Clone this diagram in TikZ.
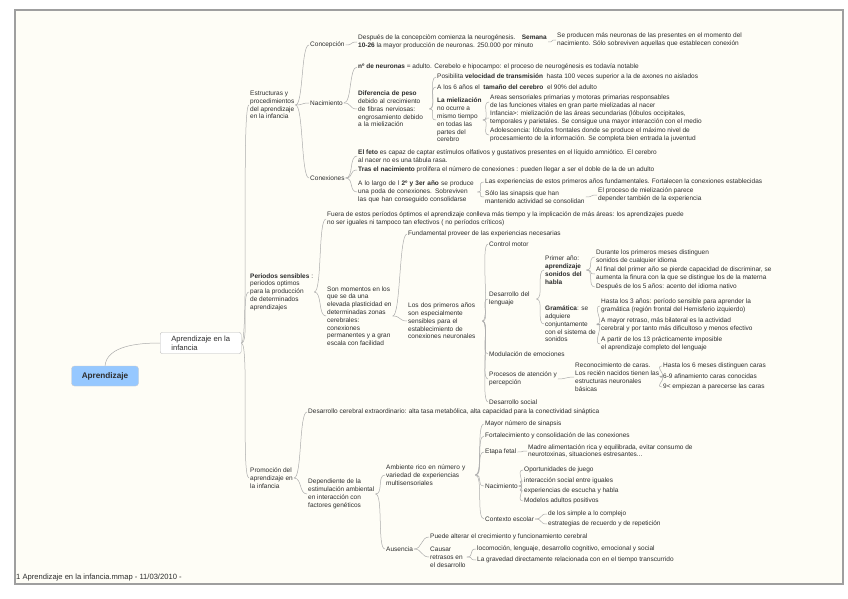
\documentclass[tikz,border=0pt]{standalone}
\usepackage{fontspec}
\setmainfont{Liberation Sans}
\usetikzlibrary{positioning, calc}

\definecolor{paper}{RGB}{254,253,246}
\definecolor{linkgray}{RGB}{172,172,172}
\definecolor{inkgray}{RGB}{45,45,45}
\definecolor{rootblue}{RGB}{150,200,255}

\tikzstyle{topic} = [anchor=west, align=left, inner sep=1pt, text=inkgray, font=\fontsize{6.5}{7.8}\selectfont]
\tikzstyle{branch} = [draw=linkgray, line width=0.5pt, to path={.. controls +(8,0) and +(-8,0) .. (\tikztotarget)}]
\tikzstyle{bubble} = [rectangle, rounded corners=2pt, draw=gray!55, fill=white, anchor=west, align=left, text=inkgray, minimum width=81pt, minimum height=20pt, inner xsep=4pt, font=\fontsize{7.6}{8.8}\selectfont]
\tikzstyle{rootbox} = [rectangle, rounded corners=3pt, draw=gray!40, fill=rootblue, minimum width=67pt, minimum height=20pt, text=inkgray, font=\fontsize{8.2}{9}\selectfont\bfseries]

\begin{document}
\begin{tikzpicture}[x=1pt, y=-1pt]
\useasboundingbox (0,0) rectangle (848,599);
\draw [gray!75, line width=1.4pt, fill=paper] (15,10) rectangle (843,584);

% centre
\node (root) [rootbox] at (105,376) {Aprendizaje};
\node (inf) [bubble] at (160,343) {Aprendizaje en la\\infancia};

% estructuras
\node (estr) [topic] at (249,105) {Estructuras y\\procedimientos\\del aprendizaje\\en la infancia};
\node (concep) [topic] at (309,45) {Concepción};
\node (nacim) [topic] at (309,103) {Nacimiento};
\node (conex) [topic] at (309,178) {Conexiones};
\node (neurog) [topic] at (357,42) {Después de la concepciòm comienza la neurogénesis.\quad \textbf{Semana}\\\textbf{10-26} la mayor producción de neuronas. 250.000 por minuto};
\node (masneur) [topic] at (556,40) {Se producen más neuronas de las presentes en el momento del\\nacimiento. Sólo sobreviven aquellas que establecen conexión};
\node (numneur) [topic] at (357,67) {\textbf{nº de neuronas} = adulto. Cerebelo e hipocampo: el proceso de neurogénesis es todavía notable};
\node (peso) [topic, text width=70pt] at (357,109) {\textbf{Diferencia de peso}\\debido al crecimiento\\de fibras nerviosas:\\engrosamiento debido\\a la mielización};
\node (veloc) [topic] at (436,77) {Posibilita \textbf{velocidad de transmisión}\ \ hasta 100 veces superior a la de axones no aislados};
\node (tamano) [topic] at (436,87) {A los 6 años el\ \ \textbf{tamaño del cerebro}\ \ el 90\% del adulto};
\node (mieliz) [topic] at (436,120) {\textbf{La mielización}\\no ocurre a\\mismo tiempo\\en todas las\\partes del\\cerebro};
\node (areas) [topic] at (489,102) {Areas sensoriales primarias y motoras primarias responsables\\de las funciones vitales en gran parte mielizadas al nacer};
\node (infancia) [topic] at (489,118) {Infancia>: mielización de las áreas secundarias (lóbulos occipitales,\\temporales y parietales. Se consigue una mayor interacción con el medio};
\node (adoles) [topic] at (489,135) {Adolescencia: lóbulos frontales donde se produce el máximo nivel de\\procesamiento de la información. Se completa bien entrada la juventud};
\node (feto) [topic] at (357,156) {\textbf{El feto} es capaz de captar estímulos olfativos y gustativos presentes en el líquido amniótico. El cerebro\\al nacer no es una tábula rasa.};
\node (tras) [topic] at (357,170) {\textbf{Tras el nacimiento} prolifera el número de conexiones : pueden llegar a ser el doble de la de un adulto};
\node (poda) [topic, text width=118pt] at (357,192) {A lo largo de l \textbf{2º y 3er año} se produce\\una poda de conexiones. Sobreviven\\las que han conseguido consolidarse};
\node (experi) [topic] at (484,182) {Las experiencias de estos primeros años fundamentales. Fortalecen la conexiones establecidas};
\node (solo) [topic] at (484,197) {Sólo las sinapsis que han\\mantenido actividad se consolidan};
\node (proceso) [topic] at (597,195) {El proceso de mielización parece\\depender también de la experiencia};

% periodos sensibles
\node (perio) [topic] at (249,292) {\textbf{Periodos sensibles} :\\periodos optimos\\para la producción\\de determinados\\aprendizajes};
\node (fuera) [topic] at (326,219) {Fuera de estos períodos óptimos el aprendizaje conlleva más tiempo y la implicación de más áreas: los aprendizajes puede\\no ser iguales ni tampoco tan efectivos ( no períodos críticos)};
\node (momentos) [topic] at (326,316) {Son momentos en los\\que se da una\\elevada plasticidad en\\determinadas zonas\\cerebrales:\\conexiones\\permanentes y a gran\\escala con facilidad};
\node (proveer) [topic] at (407,234) {Fundamental proveer de las experiencias necesarias};
\node (dosanos) [topic, text width=73pt] at (407,321) {Los dos primeros años\\son especialmente\\sensibles para el\\establecimiento de\\conexiones neuronales};
\node (motor) [topic] at (488,244) {Control motor};
\node (lenguaje) [topic, text width=46pt] at (488,299) {Desarrollo del\\lenguaje};
\node (primer) [topic, text width=40pt] at (544,270) {Primer año:\\\textbf{aprendizaje}\\\textbf{sonidos del}\\\textbf{habla}};
\node (meses) [topic] at (595,257) {Durante los primeros meses distinguen\\sonidos de cualquier idioma};
\node (alfinal) [topic] at (595,274) {Al final del primer año se pierde capacidad de discriminar, se\\aumenta la finura con la que se distingue los de la materna};
\node (cincoanos) [topic] at (595,287) {Después de los 5 años: acento del idioma nativo};
\node (gramat) [topic] at (544,324) {\textbf{Gramática}: se\\adquiere\\conjuntamente\\con el sistema de\\sonidos};
\node (tresanos) [topic] at (600,306) {Hasta los 3 años: período sensible para aprender la\\gramática (región frontal del Hemisferio izquierdo)};
\node (retraso) [topic] at (600,325) {A mayor retraso, más bilateral es la actividad\\cerebral y por tanto más dificultoso y menos efectivo};
\node (trece) [topic] at (600,344) {A partir de los 13 prácticamente imposible\\el aprendizaje completo del lenguaje};
\node (emocion) [topic] at (488,354) {Modulación de emociones};
\node (atencion) [topic] at (488,379) {Procesos de atención y\\percepción};
\node (caras) [topic] at (574,377) {Reconocimiento de caras.\\Los recién nacidos tienen las\\estructuras neuronales\\básicas};
\node (seismeses) [topic] at (662,366) {Hasta los 6 meses distinguen caras};
\node (afinam) [topic] at (662,376) {6-9 afinamiento caras conocidas};
\node (nueve) [topic] at (662,387) {9< empiezan a parecerse las caras};
\node (social) [topic] at (488,402) {Desarrollo social};

% promocion
\node (promo) [topic] at (249,478) {Promoción del\\aprendizaje en\\la infancia};
\node (extra) [topic] at (307,412) {Desarrollo cerebral extraordinario: alta tasa metabólica, alta capacidad para la conectividad sináptica};
\node (depend) [topic] at (307,494) {Dependiente de la\\estimulación ambiental\\en interacción con\\factores genéticos};
\node (ambiente) [topic, text width=88pt] at (385,475) {Ambiente rico en número y\\variedad de experiencias\\multisensoriales};
\node (ausencia) [topic] at (385,549) {Ausencia};
\node (mayor) [topic] at (484,424) {Mayor número de sinapsis};
\node (fortal) [topic] at (484,436) {Fortalecimiento y consolidación de las conexiones};
\node (fetal) [topic] at (484,452) {Etapa fetal};
\node (madre) [topic] at (527,451) {Madre alimentación rica y equilibrada, evitar consumo de\\neurotoxinas, situaciones estresantes...};
\node (nacer) [topic] at (484,486) {Nacimiento};
\node (juego) [topic] at (523,470) {Oportunidades de juego};
\node (iguales) [topic] at (523,481) {interacción social entre iguales};
\node (escucha) [topic] at (523,491) {experiencias de escucha y habla};
\node (modelos) [topic] at (523,501) {Modelos adultos positivos};
\node (escolar) [topic] at (484,519) {Contexto escolar};
\node (simple) [topic] at (547,514) {de los simple a lo complejo};
\node (recuerdo) [topic] at (547,524) {estrategias de recuerdo y de repetición};
\node (alterar) [topic] at (429,537) {Puede alterar el crecimiento y funcionamiento cerebral};
\node (causar) [topic] at (429,557) {Causar\\retrasos en\\el desarrollo};
\node (locomo) [topic] at (476,549) {locomoción, lenguaje, desarrollo cognitivo, emocional y social};
\node (gravedad) [topic] at (476,560) {La gravedad directamente relacionada con en el tiempo transcurrido};

\node (footer) [anchor=west, inner sep=0pt, text=inkgray, font=\fontsize{7.6}{9}\selectfont] at (16,578) {1 Aprendizaje en la infancia.mmap - 11/03/2010 -};

% branches
\draw [branch] (root.north) .. controls +(2,-20) and +(-22,0) .. (inf.west);
\draw [branch] (inf.east) to (estr.west);
\draw [branch] (inf.east) to (perio.west);
\draw [branch] (inf.east) to (promo.west);
\draw [branch] (estr.east) to (concep.west);
\draw [branch] (estr.east) to (nacim.west);
\draw [branch] (estr.east) to (conex.west);
\draw [branch] (concep.east) to (neurog.west);
\draw [branch] (neurog.east) to (masneur.west);
\draw [branch] (nacim.east) to (numneur.west);
\draw [branch] (nacim.east) to (peso.west);
\draw [branch] (peso.east) to (veloc.west);
\draw [branch] (peso.east) to (tamano.west);
\draw [branch] (peso.east) to (mieliz.west);
\draw [branch] (mieliz.east) to (areas.west);
\draw [branch] (mieliz.east) to (infancia.west);
\draw [branch] (mieliz.east) to (adoles.west);
\draw [branch] (conex.east) to (feto.west);
\draw [branch] (conex.east) to (tras.west);
\draw [branch] (conex.east) to (poda.west);
\draw [branch] (poda.east) to (experi.west);
\draw [branch] (poda.east) to (solo.west);
\draw [branch] (solo.east) to (proceso.west);
\draw [branch] (perio.east) to (fuera.west);
\draw [branch] (perio.east) to (momentos.west);
\draw [branch] (momentos.east) to (proveer.west);
\draw [branch] (momentos.east) to (dosanos.west);
\draw [branch] (dosanos.east) to (motor.west);
\draw [branch] (dosanos.east) to (lenguaje.west);
\draw [branch] (dosanos.east) to (emocion.west);
\draw [branch] (dosanos.east) to (atencion.west);
\draw [branch] (dosanos.east) to (social.west);
\draw [branch] (lenguaje.east) to (primer.west);
\draw [branch] (lenguaje.east) to (gramat.west);
\draw [branch] (primer.east) to (meses.west);
\draw [branch] (primer.east) to (alfinal.west);
\draw [branch] (primer.east) to (cincoanos.west);
\draw [branch] (gramat.east) to (tresanos.west);
\draw [branch] (gramat.east) to (retraso.west);
\draw [branch] (gramat.east) to (trece.west);
\draw [branch] (atencion.east) to (caras.west);
\draw [branch] (caras.east) to (seismeses.west);
\draw [branch] (caras.east) to (afinam.west);
\draw [branch] (caras.east) to (nueve.west);
\draw [branch] (promo.east) to (extra.west);
\draw [branch] (promo.east) to (depend.west);
\draw [branch] (depend.east) to (ambiente.west);
\draw [branch] (depend.east) to (ausencia.west);
\draw [branch] (ambiente.east) to (mayor.west);
\draw [branch] (ambiente.east) to (fortal.west);
\draw [branch] (ambiente.east) to (fetal.west);
\draw [branch] (ambiente.east) to (nacer.west);
\draw [branch] (ambiente.east) to (escolar.west);
\draw [branch] (fetal.east) to (madre.west);
\draw [branch] (nacer.east) to (juego.west);
\draw [branch] (nacer.east) to (iguales.west);
\draw [branch] (nacer.east) to (escucha.west);
\draw [branch] (nacer.east) to (modelos.west);
\draw [branch] (escolar.east) to (simple.west);
\draw [branch] (escolar.east) to (recuerdo.west);
\draw [branch] (ausencia.east) to (alterar.west);
\draw [branch] (ausencia.east) to (causar.west);
\draw [branch] (causar.east) to (locomo.west);
\draw [branch] (causar.east) to (gravedad.west);
\end{tikzpicture}
\end{document}
